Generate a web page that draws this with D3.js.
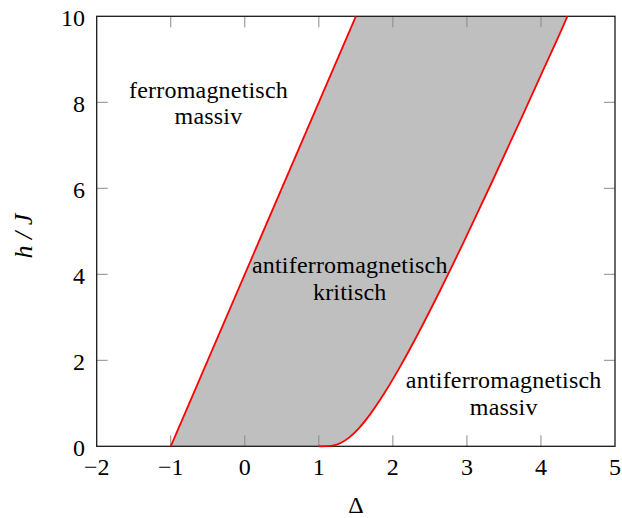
<!DOCTYPE html>
<html>
<head>
<meta charset="utf-8">
<script src="https://cdn.jsdelivr.net/npm/d3@7"></script>
<style>
  html, body { margin: 0; padding: 0; background: #fff; }
  svg { display: block; }
  text { font-family: "Liberation Serif", "Times New Roman", serif; fill: #000; }
</style>
</head>
<body>
<svg id="chart" width="622" height="518"></svg>
<script>
// Axis ticks
const deltaTicks = [-2, -1, 0, 1, 2, 3, 4, 5];
const hTicks = [0, 2, 4, 6, 8, 10];

// Upper critical field (ferromagnetic boundary): straight line
const upperDelta = [-1, 1.5];
const upperH = [0, 10];

// Lower critical field (antiferromagnetic gap boundary)
const lowerDelta = [1.0, 1.0314, 1.1276, 1.1855, 1.2947, 1.4079, 1.5431, 1.7024, 1.8884,
                    2.1040, 2.3524, 2.6377, 2.9642, 3.3371, 3.7622, 4.0450, 4.3507, 4.3570];
const lowerH = [0.0, 0.0, 0.0027, 0.0143, 0.0766, 0.2023, 0.4248, 0.7661, 1.2431,
                1.8696, 2.6584, 3.6231, 4.7780, 6.1407, 7.7311, 8.8042, 9.9742, 10.0];

// Region names
const regionLines = [["ferromagnetisch", "massiv"],
                     ["antiferromagnetisch", "kritisch"],
                     ["antiferromagnetisch", "massiv"]];
const regionDelta = [-0.49, 1.418, 3.497];
const regionH = [7.80, 3.71, 1.04];

const svg = d3.select("#chart");
const x0 = 96.7, x1 = 615, y0 = 446.3, y1 = 16.3;

const x = d3.scaleLinear().domain([-2, 5]).range([x0, x1]);
const y = d3.scaleLinear().domain([0, 10]).range([y0, y1]);

const upper = upperDelta.map((d, i) => [d, upperH[i]]);
const lower = lowerDelta.map((d, i) => [d, lowerH[i]]);

const straight = d3.line().x(d => x(d[0])).y(d => y(d[1]));
const smooth = d3.line().x(d => x(d[0])).y(d => y(d[1])).curve(d3.curveMonotoneX);

// Shaded critical region between the two boundaries
svg.append("path")
  .attr("d", straight(upper) + "L" + smooth(lower.slice().reverse()).slice(1) + "Z")
  .attr("fill", "#bfbfbf")
  .attr("stroke", "none");

// Tick marks on all four sides, pointing inward
const tickLen = 11;
const tickG = svg.append("g").attr("stroke", "#8a8a8a").attr("stroke-width", 1);
deltaTicks.slice(1, -1).forEach(t => {
  tickG.append("line").attr("x1", x(t)).attr("x2", x(t)).attr("y1", y0).attr("y2", y0 - tickLen);
  tickG.append("line").attr("x1", x(t)).attr("x2", x(t)).attr("y1", y1).attr("y2", y1 + tickLen);
});
hTicks.slice(1, -1).forEach(t => {
  tickG.append("line").attr("x1", x0).attr("x2", x0 + tickLen).attr("y1", y(t)).attr("y2", y(t));
  tickG.append("line").attr("x1", x1).attr("x2", x1 - tickLen).attr("y1", y(t)).attr("y2", y(t));
});

// Frame
svg.append("rect")
  .attr("x", x0).attr("y", y1)
  .attr("width", x1 - x0).attr("height", y0 - y1)
  .attr("fill", "none").attr("stroke", "#1a1a1a").attr("stroke-width", 1.3);

// Phase boundaries
svg.append("path")
  .attr("d", straight(upper))
  .attr("fill", "none").attr("stroke", "#ff0000").attr("stroke-width", 1.8);
svg.append("path")
  .attr("d", smooth(lower))
  .attr("fill", "none").attr("stroke", "#ff0000").attr("stroke-width", 1.8);

// Tick labels
const fmt = v => v < 0 ? "\u2212" + Math.abs(v) : String(v);
svg.append("g").selectAll("text").data(deltaTicks).join("text")
  .attr("x", d => x(d)).attr("y", 475)
  .attr("text-anchor", "middle").style("font-size", "24px")
  .text(fmt);
svg.append("g").selectAll("text").data(hTicks).join("text")
  .attr("x", 85).attr("y", d => y(d) + 9.7)
  .attr("text-anchor", "end").style("font-size", "24px")
  .text(fmt);

// Axis titles
svg.append("text")
  .attr("x", (x0 + x1) / 2).attr("y", 513)
  .attr("text-anchor", "middle").style("font-size", "24px")
  .text("Δ");
const yTitle = svg.append("text")
  .attr("transform", "translate(32, 236) rotate(-90)")
  .attr("text-anchor", "middle").style("font-size", "26px").style("font-style", "italic");
yTitle.append("tspan").text("h");
yTitle.append("tspan").attr("dx", 6.5).text("/");
yTitle.append("tspan").attr("dx", 6.5).text("J");

// Region names
regionLines.forEach((lines, i) => {
  const t = svg.append("text")
    .attr("text-anchor", "middle")
    .style("font-size", "24px").style("letter-spacing", "0.2px");
  lines.forEach((s, k) => {
    t.append("tspan")
      .attr("x", x(regionDelta[i]))
      .attr("y", y(regionH[i]) + (k === 0 ? -13.4 : 13.4))
      .text(s);
  });
});
</script>
</body>
</html>
